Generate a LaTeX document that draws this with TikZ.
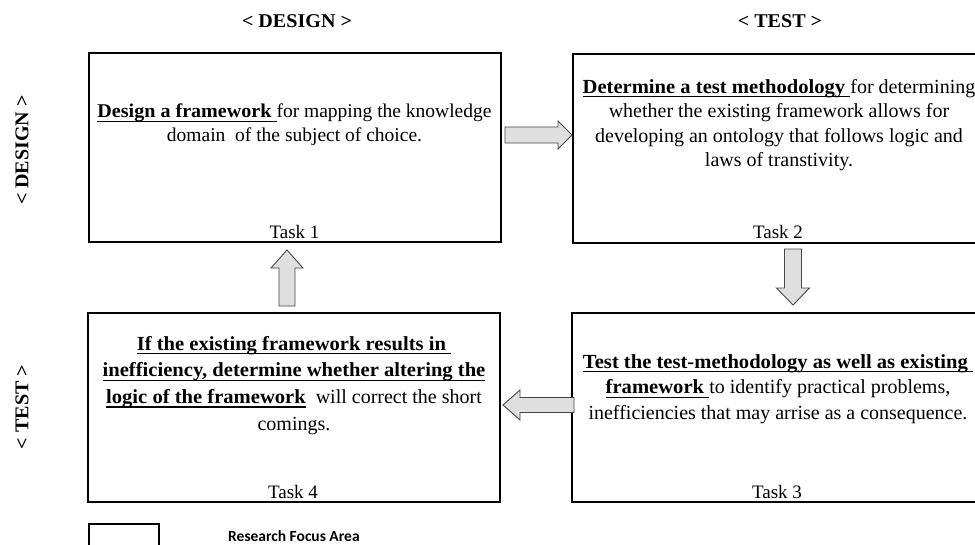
\documentclass[tikz,border=0pt]{standalone}
\usepackage{fontspec}
\setmainfont{Liberation Serif}[BoldFeatures={FakeStretch=1.03}]
\newfontfamily\legendfont{Carlito}
\usetikzlibrary{calc}

% bold, underlined lead-in of a task description
\newsavebox{\leadbox}
\newcommand{\bu}[1]{\mbox{\sbox{\leadbox}{\textbf{#1}}\rlap{\usebox{\leadbox}}\rule[-4.2pt]{\wd\leadbox}{1.2pt}}}

% block arrow: tip point, direction, length, half shaft width, half head width, head length
\newcommand{\blockarrow}[6]{%
  \begin{scope}[shift={#1}, rotate=#2]
    \draw[flowarrow] (0,0) -- (-#6,#5) -- (-#6,#4) -- (-#3,#4)
      -- (-#3,-#4) -- (-#6,-#4) -- (-#6,-#5) -- cycle;
  \end{scope}}

\tikzset{
  taskbox/.style={draw=black, line width=2pt, rectangle, inner sep=0pt,
    minimum width=412pt, minimum height=189pt},
  boxtext/.style={anchor=base, inner sep=0pt, font=\fontsize{20}{#1}\selectfont},
  tasklabel/.style={anchor=base, inner sep=0pt, font=\fontsize{19}{23}\selectfont},
  heading/.style={inner sep=0pt, font=\fontsize{19.5}{24}\selectfont\bfseries},
  flowarrow/.style={draw=gray!55!black, fill=gray!25, line width=0.9pt, line join=miter},
}

\begin{document}
\begin{tikzpicture}[x=1pt, y=-1pt]
\useasboundingbox (0,0) rectangle (975,544);
\clip (0,0) rectangle (975,544);

% phase headings
\node[heading, anchor=base] (coldesign) at (297,27) {< DESIGN >};
\node[heading, anchor=base] (coltest) at (780,27) {< TEST >};
\node[heading, rotate=90] (rowdesign) at (22,150) {< DESIGN >};
\node[heading, rotate=90] (rowtest) at (22,407) {< TEST >};

% task boxes
\node[taskbox] (t1) at (294.5,147.5) {};
\node[taskbox] (t2) at (779,148) {};
\node[taskbox] (t3) at (778,407.5) {};
\node[taskbox] (t4) at (294,407.5) {};

% task descriptions
\node[boxtext=24, font=\fontsize{19.5}{24}\selectfont] (t1text) at (294.5,117.5) {\parbox[t]{440pt}{\centering
  \bu{Design a framework }for mapping the knowledge\\
  domain\ \ of the subject of choice.}};
\node[boxtext=24.5] (t2text) at (779,93) {\parbox[t]{440pt}{\centering
  \bu{Determine a test methodology }for determining\\
  whether the existing framework allows for\\
  developing an ontology that follows logic and\\
  laws of transtivity.}};
\node[boxtext=25.5] (t3text) at (778,368) {\parbox[t]{440pt}{\centering
  \bu{Test the test-methodology as well as existing }\\
  \bu{framework }to identify practical problems,\\
  inefficiencies that may arrise as a consequence.}};
\node[boxtext=26.7] (t4text) at (294,350) {\parbox[t]{440pt}{\centering
  \bu{If the existing framework results in }\\
  \bu{inefficiency, determine whether altering the}\\
  \bu{logic of the framework}\ \ will correct the short\\
  comings.}};

% task numbers
\node[tasklabel] (t1lbl) at (294.5,238) {Task 1};
\node[tasklabel] (t2lbl) at (778,238) {Task 2};
\node[tasklabel] (t3lbl) at (777,498) {Task 3};
\node[tasklabel] (t4lbl) at (293,498) {Task 4};

% flow between tasks
\coordinate (tip12) at ($(t2.west)+(0,-13)$);
\coordinate (tip23) at ($(t3.north)+(15,-7)$);
\coordinate (tip34) at ($(t4.east)+(2,-2.5)$);
\coordinate (tip41) at ($(t1.south)+(-7.5,7)$);
\blockarrow{(tip12)}{0}{67}{8}{14}{14}
\blockarrow{(tip23)}{-90}{56}{8.5}{16.5}{17}
\blockarrow{(tip34)}{180}{71}{7.5}{15}{17}
\blockarrow{(tip41)}{90}{56}{8}{16}{18}

% legend
\node[draw=black, line width=1.5pt, minimum width=70pt, minimum height=40pt,
  inner sep=0pt, anchor=north west] (legendbox) at (88,523) {};
\node[anchor=base west, inner sep=0pt,
  font=\legendfont\bfseries\fontsize{15.5}{18}\selectfont] (legendtext) at (228,541.5) {Research Focus Area};
\end{tikzpicture}
\end{document}
